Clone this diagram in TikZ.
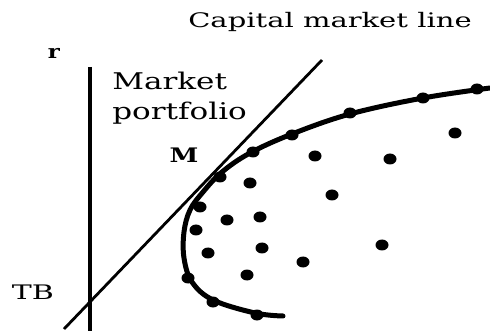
\documentclass[tikz,border=0pt]{standalone}
\usepackage{fontspec}
\setmainfont{DejaVu Serif}
\begin{document}
\begin{tikzpicture}[x=1pt,y=-1pt,
  lbl/.style={inner sep=0pt,font=\fontsize{20}{21}\selectfont},
  dotstyle/.style={fill=black}]
\useasboundingbox (0,0) rectangle (490,331);
% axis
\coordinate (axtop) at (90,67);
\coordinate (axbot) at (90,331);
\draw[line width=3.5pt] (axtop) -- (axbot);
% capital market line
\coordinate (cmlA) at (64,329);
\coordinate (cmlB) at (322,60);
\draw[line width=2.8pt] (cmlA) -- (cmlB);
% frontier
\draw[line width=5pt,line cap=round] plot[smooth,tension=0.6] coordinates {(283,316) (255,313) (213,300) (192,282) (184,258) (184,232) (190,210) (203,192) (222,172) (250,153) (292,134) (350,114) (423,98) (490,88)};
% dots on curve
\foreach \p in {(253,152),(292,135),(350,113),(423,98),(477,89),(220,177),(200,207),(196,230),(188,278),(213,302),(257,315)}
  \fill[dotstyle] \p ellipse[x radius=6.5pt,y radius=5.5pt];
% interior dots
\foreach \p in {(250,183),(315,156),(390,159),(455,133),(332,195),(227,220),(260,217),(208,253),(262,248),(303,262),(382,245),(247,275)}
  \fill[dotstyle] \p ellipse[x radius=6.5pt,y radius=5.5pt];
% labels
\node[lbl,anchor=center,xscale=1.45] (cap) at (330,22) {Capital market line};
\node[lbl,anchor=center,font=\bfseries\fontsize{19}{20}\selectfont,xscale=1.2] (r) at (54,53) {r};
\node[lbl,anchor=west,font=\fontsize{23}{30}\selectfont,align=left,xscale=1.35] (mkt) at (112,98) {Market\\portfolio};
\node[lbl,anchor=center,font=\bfseries\fontsize{20}{21}\selectfont,xscale=1.3] (M) at (184,155) {M};
\node[lbl,anchor=center,xscale=1.5] (TB) at (33,292) {TB};
\end{tikzpicture}
\end{document}
